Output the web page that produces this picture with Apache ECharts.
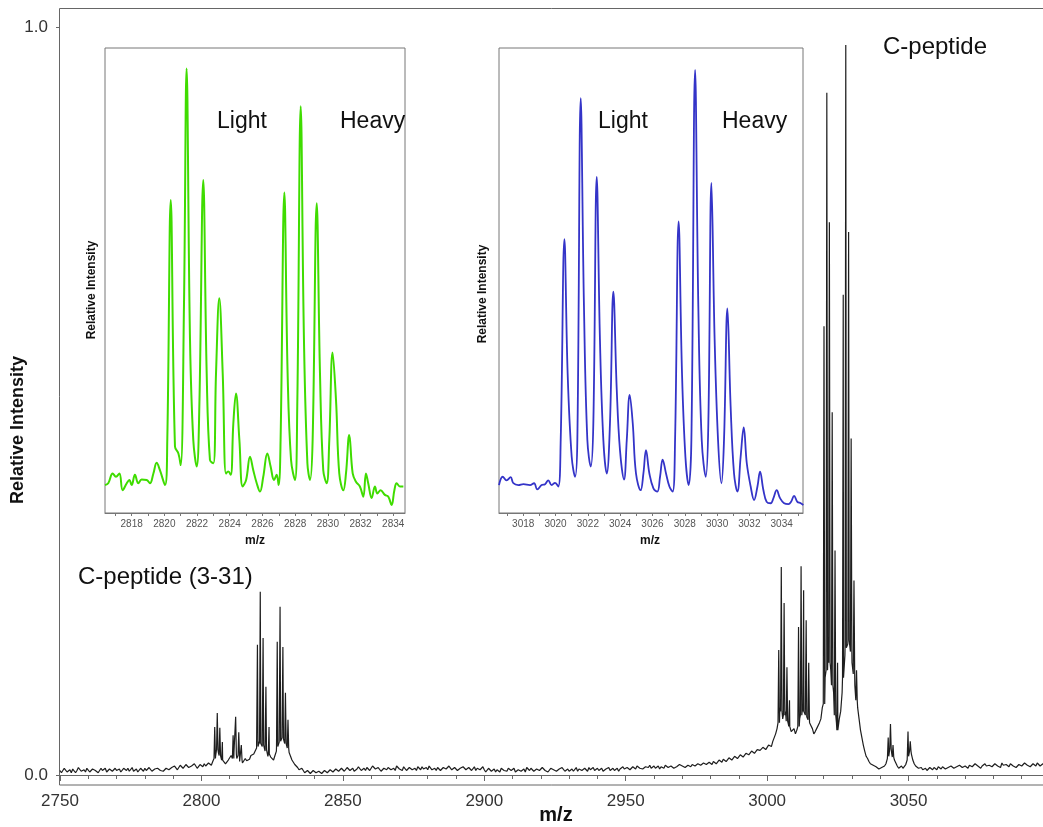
<!DOCTYPE html>
<html><head><meta charset="utf-8">
<script src="https://cdn.jsdelivr.net/npm/echarts@6/dist/echarts.min.js"></script>
<style>html,body{margin:0;padding:0;background:#fff}#c{width:1043px;height:827px}</style>
</head><body><div id="c"></div>
<script>
const FONT = '"Liberation Sans", Arial, Helvetica, sans-serif';

// ---------- main spectrum: baseline (thousandths of relative intensity) ----------
// integer m/z positions
const bgStart = [2750, 2790, 2804, 2832, 2850, 2900, 2980, 3004, 3019, 3034, 3042, 3055];
const bg2750 = [6,4,8,5,3,7,6,9,5,4, 7,5,8,6,4,6,9,5,7,4, 6,8,5,7,9,6,5,8,6,7, 9,6,8,5,7,10,8,6,9,7];
const bg2790 = [9,11,8,12,10,13,11,14,12,10,13,15,12,14];
const bg2804 = [18,25,30,28,22,16,18,22,28,26, 20,17,19,21,24,30,38,42,40,34, 28,22,26,38,45,48,40,30];
const bg2832 = [20,14,10,8,6,4,5,3,4,2, 4,3,5,4,6,5,7,6];
const bg2850 = [8,6,9,7,5,8,10,7,6,9, 8,11,7,9,6,8,10,7,9,12, 8,6,9,7,10,8,6,9,11,8, 7,10,8,6,9,7,11,8,10,7, 9,6,8,10,7,9,8,6,10,8];
const bg2900 = [7,5,8,6,4,7,9,6,5,8, 6,4,7,5,8,10,6,7,5,8, 6,9,7,5,8,6,4,7,9,6, 5,8,7,5,9,6,8,10,7,6, 9,7,5,8,10,7,6,9,8,11, 7,9,8,10,12,9,8,11,10,9, 12,10,8,11,13,10,12,9,11,14, 12,10,13,11,15,12,14,13,16,14];
const bg2980 = [16,18,15,20,17,22,19,24,21,26, 23,28,25,30,27,33,30,36,32,38, 35,42,45,55];
const bg3004 = [70,85,80,72,65,60,55,65,80,85,78,70,62,58,60];
const bg3019 = [75,95,140,150,120,80,60,85,130,170,180,150,120,90,60];
const bg3034 = [40,25,18,14,12,10,9,8];
const bg3042 = [15,25,30,20,12,10,9,14,25,28,15,10,8];
const bg3055 = [7,9,6,8,10,7,9,11,8,10, 12,9,11,13,10,12,9,14,11,13, 10,12,15,11,13,10,14,12,16,11, 13,15,12,10,14,12,16,13,11,15, 12,14,13,15,12,14];
const bgChunks = [bg2750, bg2790, bg2804, bg2832, bg2850, bg2900, bg2980, bg3004, bg3019, bg3034, bg3042, bg3055];
// half-integer m/z positions (start + 0.5)
const bh2750 = [3,9,4,7,8,3,10,5,7,9, 4,8,6,3,9,7,4,8,5,9, 7,4,9,6,5,10,7,4,9,5, 6,10,5,8,9,6,5,9,7,10];
const bh2790 = [12,7,13,9,14,10,12,15,9,14,11,12,16,13];
const bh2804 = [22,34,26,20,15,20,26,30,22,18, 16,22,18,26,28,36,45,38,32,25, 24,20,32,44,50,42,36,25];
const bh2832 = [17,12,7,9,3,6,2,6,3,5,2,6,3,7,4,8,5,9];
const bh2850 = [5,10,6,9,7,11,6,9,10,6, 12,8,10,5,9,7,11,9,6,10, 9,11,6,10,7,9,11,7,8,10, 12,7,9,10,6,10,8,12,7,10, 6,9,11,7,10,6,11,9,7,11];
const bh2900 = [4,9,5,8,7,4,8,5,9,6, 9,5,8,6,4,8,9,5,8,6, 10,6,4,9,7,5,8,10,5,8, 7,5,10,8,6,9,5,7,10,8, 6,9,7,10,6,9,8,5,10,8, 10,7,11,8,10,11,7,10,13,11, 9,12,11,9,12,10,13,11,10,12, 14,11,12,14,12,15,13,16,14,17];
const bh2980 = [14,19,17,18,21,18,23,20,25,22, 27,24,29,27,32,29,34,33,37,34, 40,38,50,62];
const bh3004 = [90,75,85,68,58,62,60,75,90,80,74,66,55,62,70];
const bh3019 = [90,130,160,140,110,70,75,110,160,175,165,135,100,75,50];
const bh3034 = [32,22,15,13,11,8,10,12];
const bh3042 = [22,35,24,16,9,12,10,20,32,20,12,9,10];
const bh3055 = [9,6,10,7,8,11,8,12,10,9, 13,11,9,14,12,10,13,11,15,12, 9,14,12,13,11,15,12,10,13,14, 11,15,13,12,16,10,14,15,12,13, 16,12,15,11,14];
const bhChunks = [bh2750, bh2790, bh2804, bh2832, bh2850, bh2900, bh2980, bh3004, bh3019, bh3034, bh3042, bh3055];

// ---------- main spectrum: isotope peaks ----------
const peakMz = [2804.7,2805.6,2806.5,2807.4, 2811.2,2812.1,2813.2,2814.1,
  2819.8,2820.8,2821.8,2822.8,2823.9, 2826.8,2827.8,2828.8,2829.7,2830.6,
  3004.1,3005.0,3006.0,3007.0,3007.9, 3011.1,3012.0,3012.9,3013.8,3014.7,
  3020.1,3021.1,3022.0,3023.0,3024.0,3024.9, 3026.9,3027.8,3028.8,3029.7,3030.7,3031.6,
  3042.8,3043.6,3044.5, 3049.8,3050.6];
const peakInt = [0.064,0.083,0.063,0.044, 0.053,0.078,0.057,0.040,
  0.174,0.245,0.183,0.118,0.064, 0.178,0.225,0.171,0.110,0.074,
  0.167,0.278,0.230,0.144,0.100, 0.198,0.279,0.247,0.207,0.150,
  0.600,0.912,0.739,0.485,0.300,0.150, 0.642,0.976,0.726,0.450,0.260,0.140,
  0.050,0.068,0.040, 0.058,0.045];

// ---------- inset 1 (green), C-peptide (3-31) ----------
const greenTicks = [2818,2820,2822,2824,2826,2828,2830,2832,2834];
const greenMz = [2816.37,2816.57,2816.84,2817.04,2817.25,2817.45,2817.70,2817.86,2818.00,2818.20,2818.41,2818.61,2818.92,2819.12,2819.33,2819.53,2819.73,2820.04,2820.18,2820.39,2820.65,2820.86,2821.00,2821.20,2821.36,2821.57,2821.77,2821.98,2822.14,2822.38,2822.59,2822.79,2823.00,2823.16,2823.36,2823.57,2823.77,2823.91,2824.06,2824.22,2824.38,2824.59,2824.79,2825.00,2825.24,2825.44,2825.65,2825.85,2826.05,2826.30,2826.50,2826.71,2826.87,2826.99,2827.11,2827.34,2827.54,2827.75,2827.99,2828.13,2828.34,2828.54,2828.75,2828.91,2829.07,2829.32,2829.52,2829.72,2829.93,2830.09,2830.29,2830.50,2830.70,2830.95,2831.11,2831.31,2831.52,2831.72,2831.96,2832.17,2832.33,2832.47,2832.68,2832.88,2833.03,2833.23,2833.49,2833.70,2833.90,2834.07,2834.21,2834.41,2834.62];
const greenInt = [6.0,6.4,8.5,7.8,8.5,4.9,6.4,7.1,6.0,8.2,6.4,7.2,7.1,6.4,8.5,10.8,9.2,6.0,15.7,67.3,14.3,12.8,10.3,44.4,95.6,37.2,15.7,10.0,22.9,71.6,30.0,11.4,10.7,30.0,46.2,30.0,8.5,8.9,8.2,19.3,25.7,15.7,5.7,7.1,12.1,9.2,6.4,4.6,7.8,12.8,10.0,7.1,8.2,6.0,15.7,68.9,30.0,11.4,7.1,22.9,87.5,37.2,10.7,7.1,15.7,66.6,30.0,9.2,6.4,15.7,34.5,24.3,8.5,4.9,8.5,16.8,8.5,6.7,5.7,3.5,8.5,6.4,3.2,5.7,4.2,4.9,3.9,3.5,1.7,4.9,6.4,5.7,5.7];

// ---------- inset 2 (blue), C-peptide ----------
const blueTicks = [3018,3020,3022,3024,3026,3028,3030,3032,3034];
const blueMz = [3016.50,3016.73,3016.97,3017.22,3017.39,3017.70,3018.01,3018.42,3018.67,3018.87,3019.14,3019.35,3019.55,3019.76,3019.97,3020.17,3020.32,3020.55,3020.75,3021.00,3021.21,3021.35,3021.56,3021.76,3021.97,3022.18,3022.34,3022.55,3022.75,3022.96,3023.17,3023.37,3023.58,3023.79,3023.99,3024.24,3024.41,3024.59,3024.78,3024.98,3025.27,3025.44,3025.60,3025.81,3026.06,3026.30,3026.47,3026.63,3026.84,3027.05,3027.25,3027.40,3027.62,3027.83,3028.04,3028.24,3028.41,3028.64,3028.84,3029.05,3029.30,3029.46,3029.65,3029.85,3030.06,3030.27,3030.43,3030.64,3030.84,3031.05,3031.26,3031.46,3031.65,3031.84,3032.08,3032.29,3032.50,3032.66,3032.87,3033.07,3033.32,3033.49,3033.69,3033.90,3034.15,3034.42,3034.58,3034.77,3034.97,3035.18,3035.34];
const blueInt = [6.0,7.8,7.0,7.7,6.4,6.0,6.2,6.0,6.4,5.1,6.0,6.2,7.0,6.0,6.5,5.7,15.7,58.9,30.0,12.1,7.8,15.7,89.2,44.4,15.7,10.0,19.3,72.3,37.2,15.7,8.5,19.3,47.6,26.5,13.5,7.2,15.7,25.4,19.3,8.5,4.9,8.5,13.5,8.5,5.3,4.6,7.8,11.5,8.5,5.7,4.6,15.7,62.7,30.0,12.1,6.0,15.7,95.3,44.4,15.7,7.8,19.3,71.0,37.2,15.7,6.4,15.7,44.0,22.9,8.5,4.6,12.1,18.4,10.7,5.7,2.8,5.7,8.9,4.9,2.4,2.1,3.2,4.9,3.2,2.1,1.9,2.4,3.7,2.4,2.1,1.7];

// ---------- build series data ----------
const bgPts = [];
bgChunks.forEach((arr, i) => arr.forEach((v, j) => bgPts.push([bgStart[i] + j, v / 1000])));
bhChunks.forEach((arr, i) => arr.forEach((v, j) => bgPts.push([bgStart[i] + j + 0.5, v / 1000])));
function baseNear(m) {
  let best = bgPts[0];
  for (const p of bgPts) if (Math.abs(p[0] - m) < Math.abs(best[0] - m)) best = p;
  return best[1];
}
const mainPts = bgPts.slice();
peakMz.forEach((m, i) => {
  const b = baseNear(m);
  mainPts.push([m - 0.25, b], [m, peakInt[i]], [m + 0.25, b]);
});
mainPts.sort((a, b) => a[0] - b[0]);
const greenData = greenMz.map((m, i) => [m, greenInt[i]]);
const blueData = blueMz.map((m, i) => [m, blueInt[i]]);

const axisGrey = '#666';
function insetX(gi, min, max, ticks) {
  const minor = [];
  for (let t = Math.ceil(min); t <= max; t++) minor.push(t);
  return {
    gridIndex: gi, type: 'value', min: min, max: max,
    axisLine: { show: true, lineStyle: { color: '#777', width: 1 } },
    axisTick: { show: true, customValues: minor, length: 3, lineStyle: { color: '#777' } },
    axisLabel: { show: true, customValues: ticks, formatter: v => String(v), fontSize: 10, color: '#555', margin: 6, fontFamily: FONT },
    splitLine: { show: false }
  };
}
function insetY(gi) {
  return { gridIndex: gi, type: 'value', min: 0, max: 100, axisLine: { show: false }, axisTick: { show: false }, axisLabel: { show: false }, splitLine: { show: false } };
}
function txt(x, y, text, size, opts) {
  return Object.assign({
    type: 'text', x: x, y: y, z: 100,
    style: { text: text, font: (opts && opts.bold ? 'bold ' : '') + size + 'px ' + FONT,
      fill: '#111', textAlign: (opts && opts.align) || 'left', textVerticalAlign: 'middle' }
  }, opts && opts.rot ? { rotation: Math.PI / 2 } : {});
}

const chart = echarts.init(document.getElementById('c'), null, { renderer: 'canvas' });
chart.setOption({
  animation: false,
  backgroundColor: '#fff',
  grid: [
    { left: 60, width: 990, top: 27, bottom: 52, show: false, outerBoundsMode: 'none', containLabel: false },
    { left: 105, top: 48, width: 300, height: 465, show: true, backgroundColor: '#fff', borderColor: '#777', borderWidth: 1, z: 5, outerBoundsMode: 'none' },
    { left: 499, top: 48, width: 304, height: 465, show: true, backgroundColor: '#fff', borderColor: '#777', borderWidth: 1, z: 5, outerBoundsMode: 'none' }
  ],
  xAxis: [
    { gridIndex: 0, type: 'value', min: 2750, max: 3100, interval: 50, offset: 10,
      axisLine: { lineStyle: { color: axisGrey, width: 1 } },
      axisTick: { length: 6, lineStyle: { color: axisGrey } },
      minorTick: { show: true, splitNumber: 5, length: 4, lineStyle: { color: axisGrey } },
      axisLabel: { fontSize: 17, color: '#333', margin: 8, fontFamily: FONT, formatter: v => (v % 50 === 0 && v < 3100) ? String(v) : '' },
      splitLine: { show: false } },
    insetX(1, 2816.37, 2834.72, greenTicks),
    insetX(2, 3016.5, 3035.32, blueTicks)
  ],
  yAxis: [
    { gridIndex: 0, type: 'value', min: 0, max: 1, interval: 1,
      axisLine: { show: false },
      axisTick: { show: true, length: 4, lineStyle: { color: axisGrey } },
      axisLabel: { formatter: v => v.toFixed(1), fontSize: 17, color: '#333', margin: 12, fontFamily: FONT },
      splitLine: { show: false } },
    insetY(1), insetY(2)
  ],
  series: [
    { type: 'line', xAxisIndex: 0, yAxisIndex: 0, data: mainPts, showSymbol: false, symbol: 'none',
      lineStyle: { color: '#1e1e1e', width: 1.2 }, sampling: null, z: 2 },
    { type: 'line', xAxisIndex: 1, yAxisIndex: 1, data: greenData, showSymbol: false, symbol: 'none',
      smooth: 0.4, lineStyle: { color: '#3fdc00', width: 2 }, z: 10 },
    { type: 'line', xAxisIndex: 2, yAxisIndex: 2, data: blueData, showSymbol: false, symbol: 'none',
      smooth: 0.4, lineStyle: { color: '#3434c8', width: 1.8 }, z: 10 }
  ],
  graphic: [
    { type: 'rect', z: 1, shape: { x: 59.5, y: 8.5, width: 1000, height: 776.5 }, style: { fill: null, stroke: axisGrey, lineWidth: 1 } },
    txt(18, 430, 'Relative Intensity', 18, { bold: true, rot: true, align: 'center' }),
    txt(556, 815, 'm/z', 20, { bold: true, align: 'center' }),
    txt(78, 577, 'C-peptide (3-31)', 24),
    txt(883, 47, 'C-peptide', 24),
    txt(217, 122, 'Light', 23),
    txt(340, 122, 'Heavy', 23),
    txt(598, 122, 'Light', 23),
    txt(722, 122, 'Heavy', 23),
    txt(255, 541, 'm/z', 12, { bold: true, align: 'center' }),
    txt(650, 541, 'm/z', 12, { bold: true, align: 'center' }),
    txt(92, 290, 'Relative Intensity', 12, { bold: true, rot: true, align: 'center' }),
    txt(483, 294, 'Relative Intensity', 12, { bold: true, rot: true, align: 'center' })
  ]
});
</script></body></html>
